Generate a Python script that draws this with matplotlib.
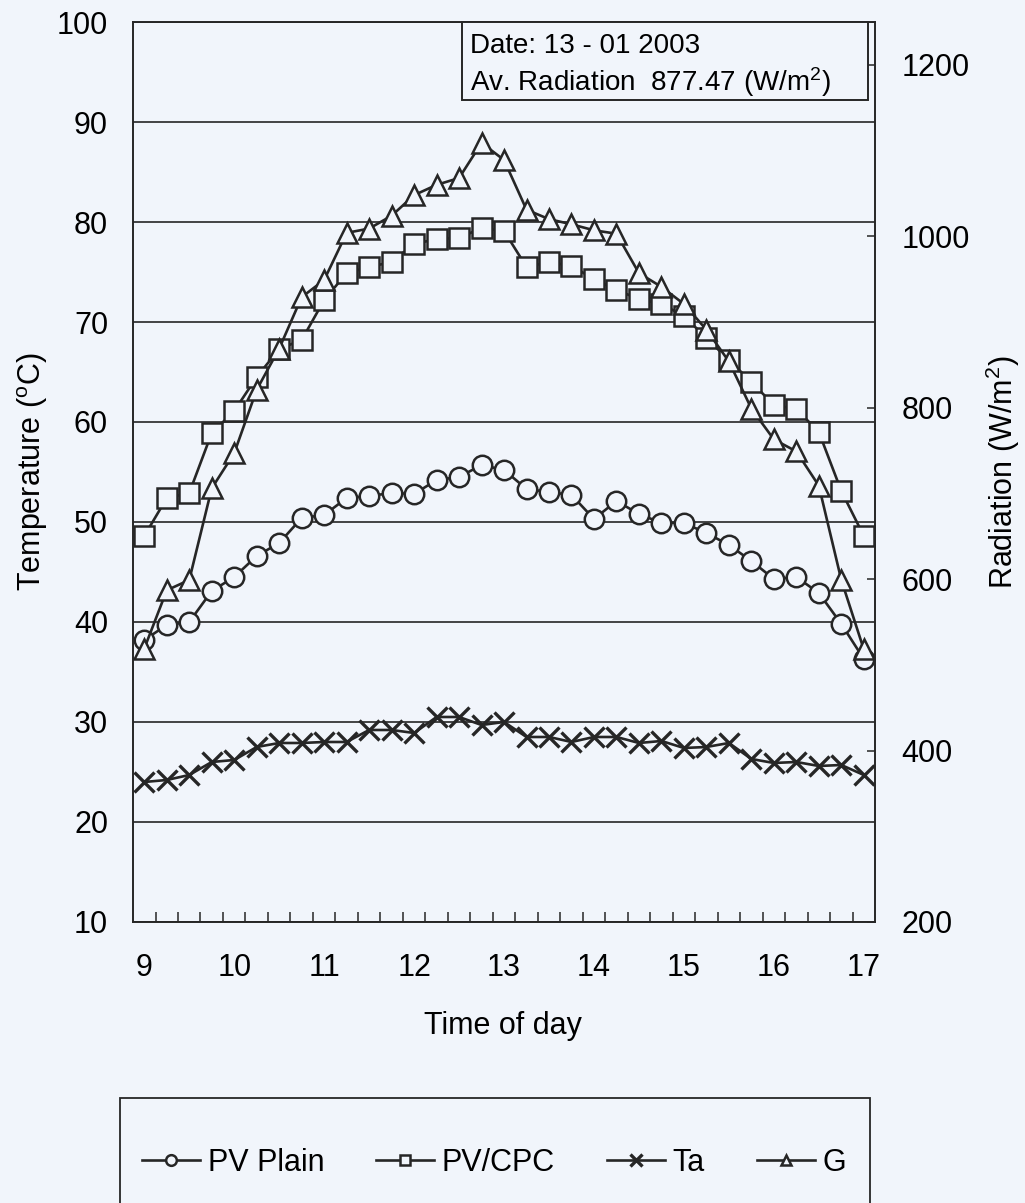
import matplotlib
matplotlib.use('Agg')
import matplotlib.pyplot as plt
import numpy as np

plt.rcParams['font.family'] = ['Liberation Sans', 'DejaVu Sans']
plt.rcParams['mathtext.fontset'] = 'custom'
plt.rcParams['mathtext.rm'] = 'Liberation Sans'

# time of day, every 15 min from 9:00 to 17:00
times = np.arange(9, 17.01, 0.25)

pv_plain = [38.2, 39.7, 40.0, 43.1, 44.5, 46.6, 47.9, 50.4, 50.7, 52.4, 52.6,
            52.9, 52.8, 54.2, 54.5, 55.7, 55.2, 53.3, 53.0, 52.7, 50.3, 52.1,
            50.8, 49.9, 49.9, 48.9, 47.7, 46.1, 44.3, 44.5, 42.9, 39.8, 36.3]
pv_cpc = [48.6, 52.4, 52.9, 58.9, 61.1, 64.5, 67.3, 68.2, 72.2, 74.9, 75.5,
          76.0, 77.8, 78.3, 78.4, 79.4, 79.1, 75.5, 76.0, 75.6, 74.3, 73.2,
          72.3, 71.8, 70.6, 68.4, 66.2, 64.0, 61.7, 61.3, 59.0, 53.1, 48.6]
ta = [24.0, 24.2, 24.7, 26.0, 26.2, 27.5, 27.9, 27.9, 28.0, 28.0, 29.2,
      29.2, 28.9, 30.5, 30.5, 29.7, 30.0, 28.5, 28.5, 28.0, 28.5, 28.5,
      27.9, 28.1, 27.4, 27.5, 27.9, 26.3, 25.9, 26.0, 25.6, 25.7, 24.7]
g = [519, 587, 599, 706, 747, 821, 869, 929, 949, 1004, 1009,
     1024, 1048, 1060, 1068, 1109, 1089, 1031, 1020, 1014, 1007, 1003,
     957, 941, 921, 891, 854, 799, 763, 749, 709, 599, 518]

hour_ticks = [9, 10, 11, 12, 13, 14, 15, 16, 17]
temp_ticks = [10, 20, 30, 40, 50, 60, 70, 80, 90, 100]
rad_ticks = [200, 400, 600, 800, 1000, 1200]

bg = '#f1f5fb'
ink = '#262626'

fig = plt.figure(figsize=(10.25, 12.03), dpi=100, facecolor=bg)
ax = fig.add_axes([0.1298, 0.2336, 0.7239, 0.7481])
ax.set_facecolor(bg)
ax2 = ax.twinx()

style = dict(color=ink, lw=1.9, markersize=14, markeredgewidth=1.8,
             markerfacecolor=bg, markeredgecolor=ink)
l1, = ax.plot(times, pv_plain, marker='o', label='PV Plain', **style)
l2, = ax.plot(times, pv_cpc, marker='s', label='PV/CPC', **style)
l3, = ax.plot(times, ta, marker='x', label='Ta', color=ink, lw=1.9,
              markersize=15, markeredgewidth=2.4)
l4, = ax2.plot(times, g, marker='^', label='G', **style)

ax.set_xlim(8.875, 17.125)
ax.set_ylim(10, 100)
ax2.set_ylim(200, 1250)

ax.set_yticks(temp_ticks)
ax.yaxis.grid(True, color=ink, lw=1.2)
ax.tick_params(axis='y', length=0, pad=18, labelsize=22)
ax.set_xticks(hour_ticks)
ax.set_xticks(np.arange(9.125, 17, 0.25), minor=True)
ax.tick_params(axis='x', which='major', length=0, pad=22, labelsize=22)
ax.tick_params(axis='x', which='minor', direction='in', length=7, width=1.1,
               color=ink)

ax2.set_yticks(rad_ticks)
ax2.tick_params(axis='y', direction='in', length=6, width=1.1, pad=19,
                labelsize=22, color=ink)

for a in (ax, ax2):
    for s in a.spines.values():
        s.set_color(ink)
        s.set_linewidth(1.2)

ax.set_ylabel('Temperature ($\\mathregular{^o}$C)', fontsize=22)
ax.yaxis.set_label_coords(-0.112, 0.5)
ax2.set_ylabel('Radiation (W/m$\\mathregular{^2}$)', fontsize=22)
ax2.yaxis.set_label_coords(1.146, 0.5)
ax.set_xlabel('Time of day', fontsize=22)
ax.xaxis.set_label_coords(0.499, -0.099)

# info box at top right
box = plt.Rectangle((462 / 1025, 1 - 100 / 1203), 406 / 1025, 78 / 1203,
                    transform=fig.transFigure, facecolor=bg, edgecolor=ink,
                    lw=1.4, zorder=5)
fig.add_artist(box)
fig.text(470 / 1025, 1 - 46 / 1203, 'Date: 13 - 01 2003', fontsize=20,
         va='center', ha='left', zorder=6)
fig.text(470 / 1025, 1 - 82 / 1203,
         'Av. Radiation  877.47 (W/m$\\mathregular{^2}$)', fontsize=20,
         va='center', ha='left', zorder=6)

# legend at the bottom, box runs off the page
leg_box = plt.Rectangle((120 / 1025, -0.05), 750 / 1025, 0.05 + 1 - 1098 / 1203,
                        transform=fig.transFigure, fill=False, edgecolor=ink,
                        lw=1.3, clip_on=False)
fig.add_artist(leg_box)
fig.legend([l1, l2, l3, l4], ['PV Plain', 'PV/CPC', 'Ta', 'G'], loc='center',
           bbox_to_anchor=(0.482, 1 - 1163 / 1203), ncol=4, frameon=False,
           fontsize=22, handlelength=1.9, handletextpad=0.25,
           columnspacing=1.7, markerscale=0.55)

plt.savefig('out.png', dpi=100, facecolor=bg)
